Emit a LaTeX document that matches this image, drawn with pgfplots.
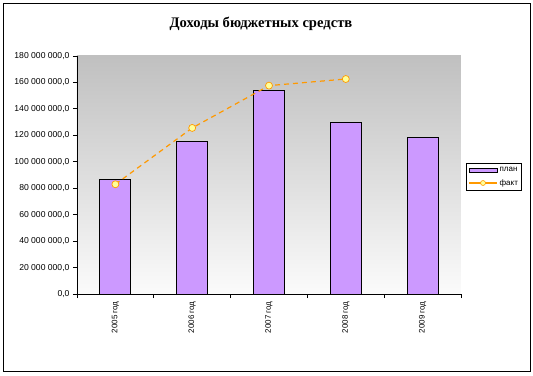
\documentclass[border=0pt]{standalone}
\usepackage{pgfplots}
\pgfplotsset{compat=1.18}
\usepackage{fontspec}
\setmainfont{Liberation Sans}
\newfontfamily\titlefont{Liberation Serif}
\definecolor{barc}{HTML}{CC99FF}
\definecolor{linec}{HTML}{FF9900}
\definecolor{markc}{HTML}{FFFF99}
\definecolor{bgtop}{HTML}{C0C0C0}
\definecolor{bgbot}{HTML}{FBFBFB}
\begin{document}
\begin{tikzpicture}
\path (0pt,0pt) rectangle (533pt,375pt);
\draw[black, line width=0.9pt] (3pt,4pt) rectangle (530pt,372pt);
\node[font=\titlefont\bfseries\fontsize{14.6}{16}\selectfont] at (261pt,351pt) {Доходы бюджетных средств};
\begin{axis}[
  at={(77pt,81pt)}, anchor=south west, scale only axis,
  width=384pt, height=238pt,
  axis x line=bottom, axis y line=left,
  axis line style={-, black, line width=0.8pt},
  xmin=-0.5, xmax=4.5, ymin=0, ymax=180,
  xtick={-0.5,0.5,1.5,2.5,3.5,4.5},
  x tick label as interval,
  xticklabels={2005 год,2006 год,2007 год,2008 год,2009 год},
  xticklabel style={rotate=90, anchor=east, font=\fontsize{8}{9}\selectfont},
  ytick={0,20,40,60,80,100,120,140,160,180},
  yticklabels={{0,0},{20 000 000,0},{40 000 000,0},{60 000 000,0},{80 000 000,0},{100 000 000,0},{120 000 000,0},{140 000 000,0},{160 000 000,0},{180 000 000,0}},
  yticklabel style={font=\fontsize{8.6}{9}\selectfont},
  tick align=outside, major tick length=4pt,
  tick style={black, line width=0.8pt},
  axis background/.style={top color=bgtop, bottom color=bgbot},
  legend style={at={(1.013,0.55)}, anchor=north west, draw=black, line width=0.9pt,
    font=\fontsize{8}{9}\selectfont, fill=white, row sep=2pt, inner sep=2pt},
  legend cell align=left,
]
\addplot[ybar, bar width=31pt, fill=barc, draw=black, line width=0.8pt,
  legend image code/.code={\draw[fill=barc, draw=black, line width=0.6pt] (0pt,-2pt) rectangle (28pt,2pt);}]
  coordinates {(0,86.8) (1,115.5) (2,154.0) (3,129.9) (4,118.5)};
\addlegendentry{план}
\addplot[linec, line width=1.2pt, dash pattern=on 5pt off 4pt,
  mark=*, mark size=3.5pt, mark options={solid, fill=markc, draw=linec, line width=0.7pt},
  legend image code/.code={\draw[solid, linec, line width=1.2pt] (0pt,0pt) -- (28pt,0pt);
    \draw[solid, fill=markc, draw=linec, line width=0.6pt] (14pt,0pt) circle (2.5pt);}]
  coordinates {(0,83.0) (1,125.6) (2,157.6) (3,162.6)};
\addlegendentry{факт}
\end{axis}
\end{tikzpicture}
\end{document}
